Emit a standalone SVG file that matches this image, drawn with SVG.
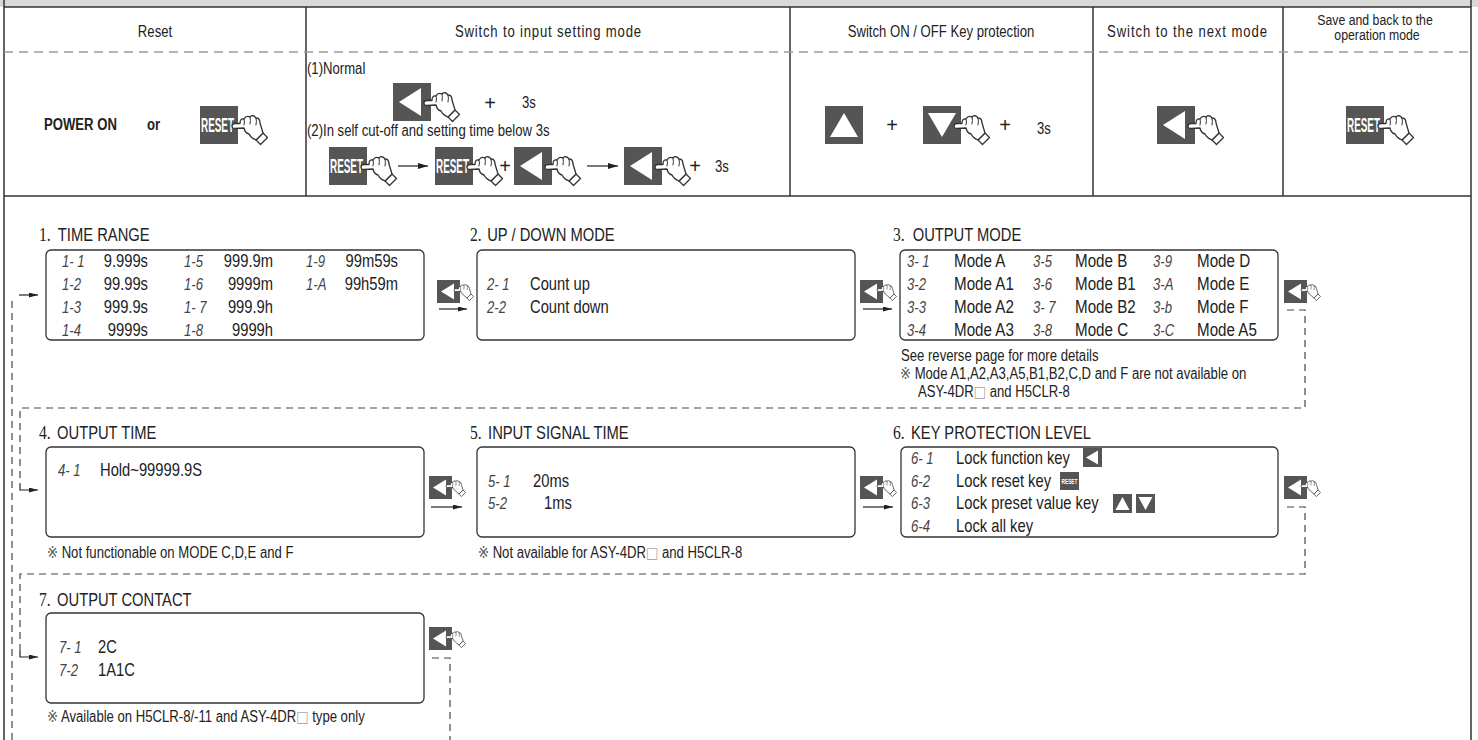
<svg xmlns="http://www.w3.org/2000/svg" width="1478" height="740" viewBox="0 0 1478 740">
<defs>
<style>
.n{font-family:"Liberation Sans",Arial,"Noto Sans CJK JP",sans-serif;fill:#222;}
.h{font-size:16px;}
.ttl{font-size:18px;}
.num{font-family:"Liberation Serif","Times New Roman",serif;font-size:19px;}
.bx{font-size:18px;}
.bx3{font-size:18.5px;}
.seg{font-family:"Liberation Sans",Arial,sans-serif;font-style:italic;font-size:16px;fill:#444;}
.note{font-size:16px;}
.sym{font-family:"DejaVu Sans","Noto Sans CJK JP",sans-serif;font-size:16px;fill:#555;}
.sq{fill:#aaa;font-family:"DejaVu Sans","Noto Sans CJK JP",sans-serif;}
.box{fill:#fff;stroke:#333;stroke-width:1.3;}
.line{stroke:#333;stroke-width:1.5;fill:none;}
.dtop{stroke:#9a9a9a;stroke-width:1.5;stroke-dasharray:9 6;fill:none;}
.dash{stroke:#444;stroke-width:1.2;stroke-dasharray:7 5;fill:none;}
.arr{stroke:#222;stroke-width:1.2;fill:none;}
.key{fill:#555;}
.tri{fill:#fff;}
.hand{fill:#fff;stroke:#333;stroke-width:1.3;stroke-linejoin:round;stroke-linecap:round;}
.hl{fill:none;stroke:#333;stroke-width:1;stroke-linecap:round;}
.rs{font-family:"Liberation Sans",Arial,sans-serif;font-weight:bold;fill:#fff;}
.plus{font-family:"Liberation Sans",Arial,sans-serif;font-size:20px;fill:#222;}
</style>
<marker id="ah" viewBox="0 0 10 6" refX="10" refY="3" markerWidth="10" markerHeight="6" markerUnits="userSpaceOnUse" orient="auto"><path d="M0,0 L10,3 L0,6 Z" fill="#222"/></marker>
<marker id="ahs" viewBox="0 0 9 5" refX="9" refY="2.5" markerWidth="9" markerHeight="5" markerUnits="userSpaceOnUse" orient="auto"><path d="M0,0 L9,2.5 L0,5 Z" fill="#222"/></marker>
<g id="hand">
<path class="hand" d="M24,27 L31,20 L35.5,24.5 L28.5,31.5 Z"/>
<path class="hand" d="M12,15 L3,15.5 Q0,15.5 0,13 Q0,10.5 3,10.5 L8,10.5 Q8,5 12,6 Q14,2 18,4 Q21,1 24,5 Q28,5 28,10 L31,20 L24,27 Q19,25 17,21 Q13,20 12,15 Z"/>
<path class="hl" d="M12,6 Q13,9 12,12 M18,4 Q19,7.5 18,11 M24,5 Q25,8 24,12"/>
</g>
<g id="kL"><rect class="key" width="38" height="38"/><path class="tri" d="M6,19 L28,5 L28,33 Z"/></g>
<g id="kR"><rect class="key" width="38" height="38"/><text class="rs" x="17.5" y="25.5" font-size="21" text-anchor="middle" textLength="33" lengthAdjust="spacingAndGlyphs">RESET</text></g>
<g id="kU"><rect class="key" width="38" height="38"/><path class="tri" d="M5,31 L19,7 L33,31 Z"/></g>
<g id="kD"><rect class="key" width="38" height="38"/><path class="tri" d="M5,7 L33,7 L19,31 Z"/></g>
<g id="ks"><rect class="key" width="23" height="23"/><path class="tri" d="M4,11.5 L17,3.5 L17,19.5 Z"/></g>
</defs>

<rect x="0" y="0" width="1478" height="7" fill="#d9d9d9"/>

<g id="frame">
<path class="line" d="M4,0 V740 M1471,0 V740 M4,7 H1471 M4,196 H1471 M306,7 V196 M790,7 V196 M1093,7 V196 M1283,7 V196"/>
<path class="dtop" d="M4,52 H1471"/>
</g>

<g id="cell-reset">
<text class="n h" transform="matrix(.82 0 0 1 155 37)" text-anchor="middle">Reset</text>
<text class="n" font-size="16" font-weight="bold" transform="matrix(.82 0 0 1 44 130)">POWER ON</text>
<text class="n" font-size="16" font-weight="bold" transform="matrix(.82 0 0 1 147 130)">or</text>
<use href="#kR" x="200" y="106"/>
<use href="#hand" transform="translate(232,113)"/>
</g>

<g id="cell-input">
<text class="n h" transform="matrix(.82 0 0 1 548 37)" text-anchor="middle" textLength="227" lengthAdjust="spacing">Switch to input setting mode</text>
<text class="n" font-size="16" transform="matrix(.82 0 0 1 307 74)">(1)Normal</text>
<use href="#kL" x="393" y="83"/>
<use href="#hand" transform="translate(424,90)"/>
<text class="plus" x="490" y="110" text-anchor="middle">+</text>
<text class="n" font-size="16" transform="matrix(.82 0 0 1 522 108)">3s</text>
<text class="n" font-size="16" transform="matrix(.82 0 0 1 307 136)">(2)In self cut-off and setting time below 3s</text>
<use href="#kR" x="329" y="147"/>
<use href="#hand" transform="translate(361,154)"/>
<use href="#kR" x="435" y="147"/>
<use href="#hand" transform="translate(467,154)"/>
<text class="plus" x="505" y="173" text-anchor="middle">+</text>
<use href="#kL" x="514" y="147"/>
<use href="#hand" transform="translate(545,154)"/>
<use href="#kL" x="624" y="147"/>
<use href="#hand" transform="translate(655,154)"/>
<text class="plus" x="695" y="173" text-anchor="middle">+</text>
<text class="n" font-size="16" transform="matrix(.82 0 0 1 715 172)">3s</text>
</g>

<g id="cell-protect">
<text class="n h" transform="matrix(.82 0 0 1 941 37)" text-anchor="middle">Switch ON / OFF Key protection</text>
<use href="#kU" x="825" y="106"/>
<text class="plus" x="892" y="132" text-anchor="middle">+</text>
<use href="#kD" x="923" y="106"/>
<use href="#hand" transform="translate(954,113)"/>
<text class="plus" x="1005" y="132" text-anchor="middle">+</text>
<text class="n" font-size="16" transform="matrix(.82 0 0 1 1037 134)">3s</text>
</g>

<g id="cell-next">
<text class="n h" transform="matrix(.82 0 0 1 1187 37)" text-anchor="middle" textLength="195" lengthAdjust="spacing">Switch to the next mode</text>
<use href="#kL" x="1157" y="106"/>
<use href="#hand" transform="translate(1188,113)"/>
</g>

<g id="cell-save">
<text class="n" font-size="15" transform="matrix(.82 0 0 1 1375 25)" text-anchor="middle">Save and back to the</text>
<text class="n" font-size="15" transform="matrix(.82 0 0 1 1377 40)" text-anchor="middle">operation mode</text>
<use href="#kR" x="1346" y="106"/>
<use href="#hand" transform="translate(1378,113)"/>
</g>

<g id="connectors">
<path class="arr" d="M398,166 H428" marker-end="url(#ah)"/>
<path class="arr" d="M587,166 H618" marker-end="url(#ah)"/>
<path class="arr" d="M439,309 H467" marker-end="url(#ahs)"/>
<path class="arr" d="M863,309 H892" marker-end="url(#ahs)"/>
<path class="arr" d="M431,507 H462" marker-end="url(#ahs)"/>
<path class="arr" d="M863,507 H893" marker-end="url(#ahs)"/>
<path class="dash" d="M1287,310 H1305 V408 H20 V484"/>
<path class="arr" d="M20,484 V490 H38" marker-end="url(#ahs)"/>
<path class="dash" d="M1287,507 H1305 V574 H20 V651"/>
<path class="arr" d="M20,651 V657 H38" marker-end="url(#ahs)"/>
<path class="dash" d="M432,658 H450 V740"/>
<path class="dash" d="M12,740 V298"/>
<path class="arr" d="M19,295 H38" marker-end="url(#ahs)"/>
<use href="#ks" x="437" y="280"/>
<use href="#hand" transform="translate(454,283) scale(0.55)"/>
<use href="#ks" x="860" y="280"/>
<use href="#hand" transform="translate(877,283) scale(0.55)"/>
<use href="#ks" x="1284" y="280"/>
<use href="#hand" transform="translate(1301,283) scale(0.55)"/>
<use href="#ks" x="429" y="476"/>
<use href="#hand" transform="translate(446,479) scale(0.55)"/>
<use href="#ks" x="860" y="476"/>
<use href="#hand" transform="translate(877,479) scale(0.55)"/>
<use href="#ks" x="1284" y="476"/>
<use href="#hand" transform="translate(1301,479) scale(0.55)"/>
<use href="#ks" x="429" y="627"/>
<use href="#hand" transform="translate(446,630) scale(0.55)"/>
</g>

<g id="node-1">
<text class="n ttl" transform="matrix(.82 0 0 1 39 241)"><tspan class="num">1.</tspan><tspan x="23">TIME RANGE</tspan></text>
<rect class="box" x="46" y="250" width="378" height="90" rx="5"/>
<text class="seg" transform="matrix(.82 0 0 1 62 267)">1- 1</text><text class="n bx" transform="matrix(.82 0 0 1 148 267)" text-anchor="end">9.999s</text>
<text class="seg" transform="matrix(.82 0 0 1 62 290)">1-2</text><text class="n bx" transform="matrix(.82 0 0 1 148 290)" text-anchor="end">99.99s</text>
<text class="seg" transform="matrix(.82 0 0 1 62 313)">1-3</text><text class="n bx" transform="matrix(.82 0 0 1 148 313)" text-anchor="end">999.9s</text>
<text class="seg" transform="matrix(.82 0 0 1 62 336)">1-4</text><text class="n bx" transform="matrix(.82 0 0 1 148 336)" text-anchor="end">9999s</text>
<text class="seg" transform="matrix(.82 0 0 1 184 267)">1-5</text><text class="n bx" transform="matrix(.82 0 0 1 273 267)" text-anchor="end">999.9m</text>
<text class="seg" transform="matrix(.82 0 0 1 184 290)">1-6</text><text class="n bx" transform="matrix(.82 0 0 1 273 290)" text-anchor="end">9999m</text>
<text class="seg" transform="matrix(.82 0 0 1 184 313)">1- 7</text><text class="n bx" transform="matrix(.82 0 0 1 273 313)" text-anchor="end">999.9h</text>
<text class="seg" transform="matrix(.82 0 0 1 184 336)">1-8</text><text class="n bx" transform="matrix(.82 0 0 1 273 336)" text-anchor="end">9999h</text>
<text class="seg" transform="matrix(.82 0 0 1 306 267)">1-9</text><text class="n bx" transform="matrix(.82 0 0 1 398 267)" text-anchor="end">99m59s</text>
<text class="seg" transform="matrix(.82 0 0 1 306 290)">1-A</text><text class="n bx" transform="matrix(.82 0 0 1 398 290)" text-anchor="end">99h59m</text>
</g>

<g id="node-2">
<text class="n ttl" transform="matrix(.82 0 0 1 470 241)"><tspan class="num">2.</tspan><tspan x="21">UP / DOWN MODE</tspan></text>
<rect class="box" x="477" y="250" width="378" height="90" rx="5"/>
<text class="seg" transform="matrix(.82 0 0 1 487 290)">2- 1</text><text class="n bx" transform="matrix(.82 0 0 1 530 290)">Count up</text>
<text class="seg" transform="matrix(.82 0 0 1 487 313)">2-2</text><text class="n bx" transform="matrix(.82 0 0 1 530 313)">Count down</text>
</g>

<g id="node-3">
<text class="n ttl" transform="matrix(.82 0 0 1 893 241)"><tspan class="num">3.</tspan><tspan x="24">OUTPUT MODE</tspan></text>
<rect class="box" x="900" y="250" width="378" height="90" rx="5"/>
<text class="seg" transform="matrix(.82 0 0 1 907 267)">3- 1</text><text class="n bx3" transform="matrix(.82 0 0 1 954 267)">Mode A</text>
<text class="seg" transform="matrix(.82 0 0 1 907 290)">3-2</text><text class="n bx3" transform="matrix(.82 0 0 1 954 290)">Mode A1</text>
<text class="seg" transform="matrix(.82 0 0 1 907 313)">3-3</text><text class="n bx3" transform="matrix(.82 0 0 1 954 313)">Mode A2</text>
<text class="seg" transform="matrix(.82 0 0 1 907 336)">3-4</text><text class="n bx3" transform="matrix(.82 0 0 1 954 336)">Mode A3</text>
<text class="seg" transform="matrix(.82 0 0 1 1033 267)">3-5</text><text class="n bx3" transform="matrix(.82 0 0 1 1075 267)">Mode B</text>
<text class="seg" transform="matrix(.82 0 0 1 1033 290)">3-6</text><text class="n bx3" transform="matrix(.82 0 0 1 1075 290)">Mode B1</text>
<text class="seg" transform="matrix(.82 0 0 1 1033 313)">3- 7</text><text class="n bx3" transform="matrix(.82 0 0 1 1075 313)">Mode B2</text>
<text class="seg" transform="matrix(.82 0 0 1 1033 336)">3-8</text><text class="n bx3" transform="matrix(.82 0 0 1 1075 336)">Mode C</text>
<text class="seg" transform="matrix(.82 0 0 1 1153 267)">3-9</text><text class="n bx3" transform="matrix(.82 0 0 1 1197 267)">Mode D</text>
<text class="seg" transform="matrix(.82 0 0 1 1153 290)">3-A</text><text class="n bx3" transform="matrix(.82 0 0 1 1197 290)">Mode E</text>
<text class="seg" transform="matrix(.82 0 0 1 1153 313)">3-b</text><text class="n bx3" transform="matrix(.82 0 0 1 1197 313)">Mode F</text>
<text class="seg" transform="matrix(.82 0 0 1 1153 336)">3-C</text><text class="n bx3" transform="matrix(.82 0 0 1 1197 336)">Mode A5</text>
<text class="n note" transform="matrix(.82 0 0 1 901 361)">See reverse page for more details</text>
<text class="n note" transform="matrix(.82 0 0 1 900 379)"><tspan class="sym">※</tspan> Mode A1,A2,A3,A5,B1,B2,C,D and F are not available on</text>
<text class="n note" transform="matrix(.82 0 0 1 918 397)">ASY-4DR<tspan class="sq">□</tspan> and H5CLR-8</text>
</g>

<g id="node-4">
<text class="n ttl" transform="matrix(.82 0 0 1 39 439)"><tspan class="num">4.</tspan><tspan x="22">OUTPUT TIME</tspan></text>
<rect class="box" x="46" y="447" width="378" height="90" rx="5"/>
<text class="seg" transform="matrix(.82 0 0 1 58 476)">4- 1</text><text class="n bx" transform="matrix(.82 0 0 1 100 476)">Hold~99999.9S</text>
<text class="n note" transform="matrix(.82 0 0 1 47 558)"><tspan class="sym">※</tspan> Not functionable on MODE C,D,E and F</text>
</g>

<g id="node-5">
<text class="n ttl" transform="matrix(.82 0 0 1 470 439)"><tspan class="num">5.</tspan><tspan x="22">INPUT SIGNAL TIME</tspan></text>
<rect class="box" x="477" y="447" width="378" height="90" rx="5"/>
<text class="seg" transform="matrix(.82 0 0 1 488 487)">5- 1</text><text class="n bx" transform="matrix(.82 0 0 1 533 487)">20ms</text>
<text class="seg" transform="matrix(.82 0 0 1 488 509)">5-2</text><text class="n bx" transform="matrix(.82 0 0 1 544 509)">1ms</text>
<text class="n note" transform="matrix(.82 0 0 1 478 558)"><tspan class="sym">※</tspan> Not available for ASY-4DR<tspan class="sq">□</tspan> and H5CLR-8</text>
</g>

<g id="node-6">
<text class="n ttl" transform="matrix(.82 0 0 1 893 439)"><tspan class="num">6.</tspan><tspan x="22">KEY PROTECTION LEVEL</tspan></text>
<rect class="box" x="901" y="447" width="377" height="90" rx="5"/>
<text class="seg" transform="matrix(.82 0 0 1 911 464)">6- 1</text><text class="n bx" transform="matrix(.82 0 0 1 956 464)">Lock function key</text>
<text class="seg" transform="matrix(.82 0 0 1 911 487)">6-2</text><text class="n bx" transform="matrix(.82 0 0 1 956 487)">Lock reset key</text>
<text class="seg" transform="matrix(.82 0 0 1 911 509)">6-3</text><text class="n bx" transform="matrix(.82 0 0 1 956 509)">Lock preset value key</text>
<text class="seg" transform="matrix(.82 0 0 1 911 532)">6-4</text><text class="n bx" transform="matrix(.82 0 0 1 956 532)">Lock all key</text>
<rect class="key" x="1083" y="448" width="19" height="19"/><path class="tri" d="M1086,457.5 L1098,450.5 L1098,464.5 Z"/>
<rect class="key" x="1060" y="472" width="19" height="18"/><text class="rs" x="1069.5" y="484" font-size="7" text-anchor="middle" textLength="16" lengthAdjust="spacingAndGlyphs">RESET</text>
<rect class="key" x="1113" y="494" width="19" height="19"/><path class="tri" d="M1115.5,510 L1122.5,497 L1129.5,510 Z"/>
<rect class="key" x="1136" y="494" width="19" height="19"/><path class="tri" d="M1138.5,497 L1152.5,497 L1145.5,510 Z"/>
</g>

<g id="node-7">
<text class="n ttl" transform="matrix(.82 0 0 1 39 606)"><tspan class="num">7.</tspan><tspan x="22">OUTPUT CONTACT</tspan></text>
<rect class="box" x="46" y="613" width="378" height="90" rx="5"/>
<text class="seg" transform="matrix(.82 0 0 1 59 653)">7- 1</text><text class="n bx" transform="matrix(.82 0 0 1 98 653)">2C</text>
<text class="seg" transform="matrix(.82 0 0 1 59 676)">7-2</text><text class="n bx" transform="matrix(.82 0 0 1 98 676)">1A1C</text>
<text class="n note" transform="matrix(.82 0 0 1 47 722)"><tspan class="sym">※</tspan> Available on H5CLR-8/-11 and ASY-4DR<tspan class="sq">□</tspan> type only</text>
</g>
</svg>
